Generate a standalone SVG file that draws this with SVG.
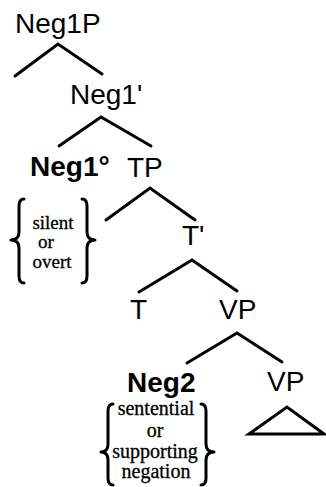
<svg xmlns="http://www.w3.org/2000/svg" width="326" height="487" viewBox="0 0 326 487">
<style>
.lbl{font-family:"Liberation Sans",Arial,sans-serif;font-size:28px;fill:#000}
.b{font-weight:bold}
.ann{font-family:"Liberation Serif","Times New Roman",serif;font-size:20px;fill:#000;text-anchor:middle;stroke:#000;stroke-width:0.3}
.edge{stroke:#000;stroke-width:3;fill:none;stroke-linecap:round}
.brace{stroke:#000;stroke-width:3;fill:none;stroke-linecap:round;stroke-linejoin:round}
</style>
<rect width="326" height="487" fill="#fff"/>
<g id="connectors">
<path class="edge" d="M15 76 L58 44 L102 74"/>
<path class="edge" d="M59 146 L101 117 L151 146"/>
<path class="edge" d="M106 220 L150 188 L195 220"/>
<path class="edge" d="M139 292 L192 260 L237 291"/>
<path class="edge" d="M187 363 L237 333 L282 362"/>
</g>
<g id="Neg1P"><text class="lbl" x="15" y="33">Neg1P</text></g>
<g id="Neg1bar"><text class="lbl" x="70" y="104">Neg1'</text></g>
<g id="Neg1head"><text class="lbl b" x="30" y="176">Neg1°</text></g>
<g id="Neg1note">
<path class="brace" d="M24 199 Q19 199 19 206 L19 232 Q19 240 11 240 Q19 240 19 248 L19 276 Q19 283 24 283"/>
<path class="brace" d="M82 199 Q87 199 87 206 L87 232 Q87 240 95 240 Q87 240 87 248 L87 276 Q87 283 82 283"/>
<text class="ann" style="font-size:19px" x="53" y="229">silent</text>
<text class="ann" style="font-size:19px" x="46" y="248">or</text>
<text class="ann" style="font-size:19px" x="52" y="268">overt</text>
</g>
<g id="TP"><text class="lbl" x="127" y="177">TP</text></g>
<g id="Tbar"><text class="lbl" x="182" y="245">T'</text></g>
<g id="T"><text class="lbl" x="130" y="319">T</text></g>
<g id="VP1"><text class="lbl" x="219" y="319">VP</text></g>
<g id="Neg2"><text class="lbl b" x="127" y="392">Neg2</text></g>
<g id="Neg2note">
<path class="brace" d="M113 404 Q108 404 108 411 L108 444 Q108 452 101 452 Q108 452 108 460 L108 478 Q108 485 113 485"/>
<path class="brace" d="M201 404 Q206 404 206 411 L206 444 Q206 452 214 452 Q206 452 206 460 L206 478 Q206 485 201 485"/>
<text class="ann" x="156" y="415">sentential</text>
<text class="ann" x="155" y="437">or</text>
<text class="ann" x="155" y="458">supporting</text>
<text class="ann" x="156" y="478">negation</text>
</g>
<g id="VP2">
<text class="lbl" x="267" y="391">VP</text>
<path class="edge" d="M249 434 L287 407 L324 434 Z" stroke-linejoin="miter"/>
</g>
</svg>
